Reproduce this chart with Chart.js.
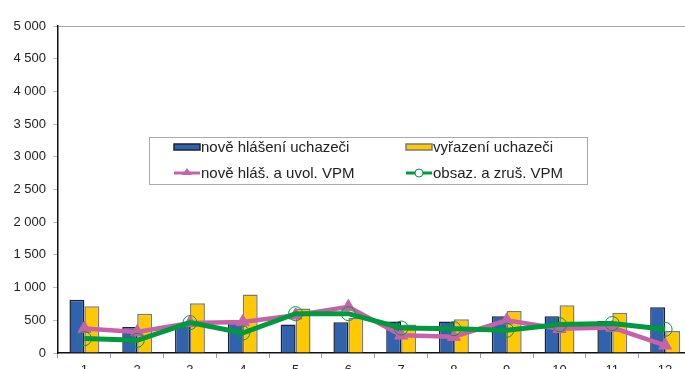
<!DOCTYPE html>
<html>
<head>
<meta charset="utf-8">
<script src="https://cdn.jsdelivr.net/npm/chart.js@4"></script>
<style>
  html, body { margin: 0; padding: 0; background: #fff; overflow: hidden; }
  #wrap { width: 700px; height: 380px; }
</style>
</head>
<body>
<div id="wrap"><canvas id="myChart" width="700" height="380"></canvas></div>
<script>
const months = ["1", "2", "3", "4", "5", "6", "7", "8", "9", "10", "11", "12"];
const noveHlaseni = [816, 398, 420, 460, 434, 469, 480, 480, 561, 561, 489, 699];
const vyrazeni = [714, 602, 760, 893, 679, 535, 434, 515, 642, 729, 617, 336];
const noveVpm = [373, 320, 460, 474, 576, 705, 270, 250, 500, 370, 390, 118];
const obsazVpm = [220, 194, 465, 306, 602, 602, 382, 372, 347, 434, 450, 362];

const blue = "#3062AE";
const yellow = "#FFC800";
const pink = "#C862A8";
const green = "#009A3E";

const fmt = (v) => String(v).replace(/\B(?=(\d{3})+(?!\d))/g, " ");

// legend drawn inside the plot, in a framed box
const boxLegend = {
  id: "boxLegend",
  afterDraw(chart) {
    const ctx = chart.ctx;
    const ds = chart.data.datasets;
    const x0 = 149, y0 = 137, w = 438, h = 47;
    ctx.save();
    ctx.fillStyle = "#fff";
    ctx.fillRect(x0, y0, w, h);
    ctx.strokeStyle = "#aaa";
    ctx.lineWidth = 1;
    ctx.strokeRect(x0 + 0.5, y0 + 0.5, w, h);
    ctx.font = "15px 'Liberation Sans', Arial, sans-serif";
    ctx.textBaseline = "middle";
    const cols = [174, 406];
    const rows = [147, 173];
    ds.forEach((d, i) => {
      const sx = cols[i % 2];
      const sy = rows[Math.floor(i / 2)];
      if (d.type === "bar") {
        ctx.fillStyle = d.backgroundColor;
        ctx.fillRect(sx, sy - 3, 26, 6);
        ctx.strokeStyle = d.borderColor;
        ctx.lineWidth = 1.5;
        ctx.strokeRect(sx, sy - 3, 26, 6);
      } else {
        ctx.strokeStyle = d.borderColor;
        ctx.lineWidth = 3;
        ctx.beginPath();
        ctx.moveTo(sx, sy);
        ctx.lineTo(sx + 26, sy);
        ctx.stroke();
        ctx.lineWidth = 1;
        if (d.pointStyle === "triangle") {
          ctx.fillStyle = d.borderColor;
          ctx.beginPath();
          ctx.moveTo(sx + 13, sy - 5);
          ctx.lineTo(sx + 18, sy + 2);
          ctx.lineTo(sx + 8, sy + 2);
          ctx.closePath();
          ctx.fill();
        } else {
          ctx.fillStyle = "#fff";
          ctx.beginPath();
          ctx.arc(sx + 13, sy, 4, 0, Math.PI * 2);
          ctx.fill();
          ctx.stroke();
        }
      }
      ctx.fillStyle = "#222";
      ctx.fillText(d.label, sx + 27, sy + 1);
    });
    ctx.restore();
  }
};

const data = {
  labels: months,
  datasets: [
    {
      type: "bar",
      label: "nově hlášení uchazeči",
      data: noveHlaseni,
      backgroundColor: blue,
      borderColor: "#1c2333",
      borderWidth: 1.5,
      order: 3,
    },
    {
      type: "bar",
      label: "vyřazení uchazeči",
      data: vyrazeni,
      backgroundColor: yellow,
      borderColor: "#7a7a7a",
      borderWidth: 1.5,
      order: 3,
    },
    {
      type: "line",
      label: "nově hláš. a uvol. VPM",
      data: noveVpm,
      borderColor: pink,
      backgroundColor: pink,
      borderWidth: 4.5,
      pointStyle: "triangle",
      pointRadius: 7.5,
      pointBorderWidth: 1,
      tension: 0,
      order: 2,
    },
    {
      type: "line",
      label: "obsaz. a zruš. VPM",
      data: obsazVpm,
      borderColor: green,
      backgroundColor: "rgba(0,0,0,0)",
      pointBackgroundColor: "rgba(0,0,0,0)",
      pointBorderColor: green,
      borderWidth: 5,
      pointStyle: "circle",
      pointRadius: 7,
      pointBorderWidth: 1,
      tension: 0,
      order: 1,
    },
  ],
};

const config = {
  data: data,
  plugins: [boxLegend],
  options: {
    responsive: false,
    animation: false,
    layout: { padding: { top: 26, right: 5, left: 0, bottom: 0 } },
    datasets: {
      bar: { categoryPercentage: 0.566, barPercentage: 1.0 },
    },
    plugins: {
      legend: { display: false },
      tooltip: { enabled: false },
    },
    scales: {
      x: {
        grid: {
          offset: true,
          drawOnChartArea: false,
          tickLength: 5,
          tickColor: "#999",
        },
        border: { color: "#111", width: 1.5 },
        ticks: {
          color: "#222",
          padding: 5,
          font: { family: "'Liberation Sans', Arial, sans-serif", size: 13 },
        },
        afterFit: (scale) => { scale.height = 27; },
      },
      y: {
        min: 0,
        max: 5000,
        grid: {
          color: (c) => (c.tick && c.tick.value === 5000 ? "#aaa" : "rgba(0,0,0,0)"),
          tickLength: 5,
          tickColor: "#bbb",
        },
        border: { color: "#111", width: 1.5 },
        ticks: {
          stepSize: 500,
          color: "#222",
          padding: 7,
          font: { family: "'Liberation Sans', Arial, sans-serif", size: 13 },
          callback: (v) => fmt(v),
        },
        afterFit: (scale) => { scale.width = 58; },
      },
    },
  },
};

new Chart(document.getElementById("myChart"), config);
</script>
</body>
</html>
